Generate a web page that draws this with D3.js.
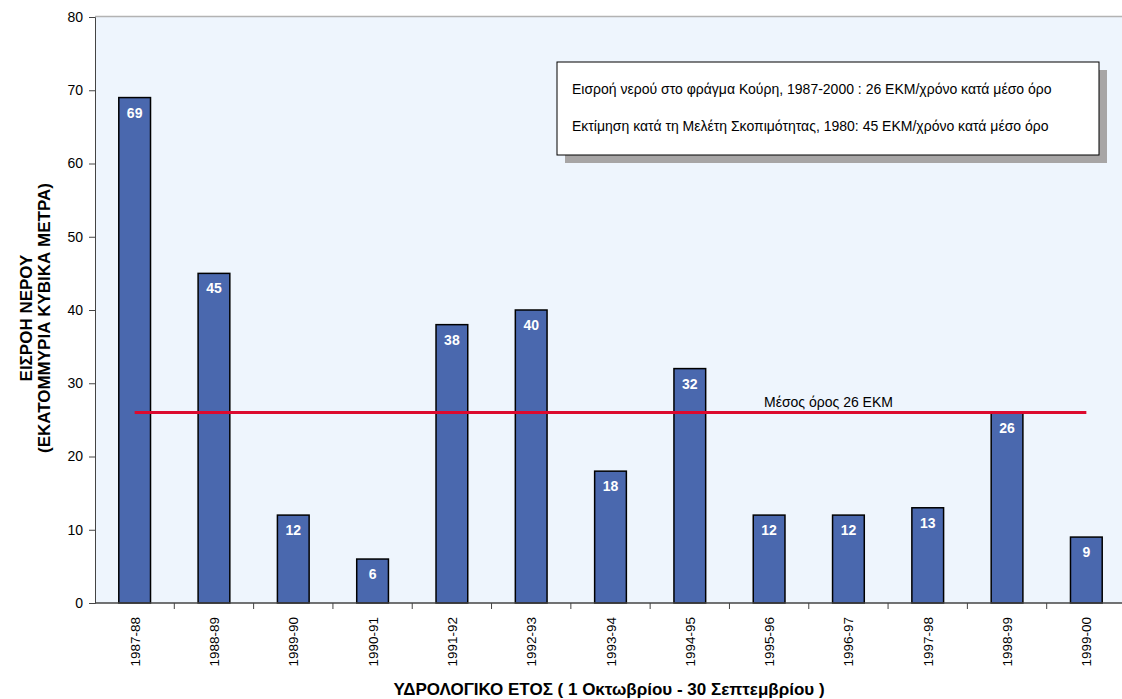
<!DOCTYPE html>
<html>
<head>
<meta charset="utf-8">
<script src="https://cdn.jsdelivr.net/npm/d3@7"></script>
<style>
  body { margin: 0; background: #fff; }
  svg { display: block; font-family: Arial, "Liberation Sans", sans-serif; }
</style>
</head>
<body>
<div id="chart"></div>
<script>
const years = ["1987-88", "1988-89", "1989-90", "1990-91", "1991-92", "1992-93", "1993-94",
  "1994-95", "1995-96", "1996-97", "1997-98", "1998-99", "1999-00"];
const inflow = [69, 45, 12, 6, 38, 40, 18, 32, 12, 12, 13, 26, 9];
const meanValue = 26;
const yTicks = [0, 10, 20, 30, 40, 50, 60, 70, 80];
const legendLines = [
  "Εισροή νερού στο φράγμα Κούρη, 1987-2000 : 26 ΕΚΜ/χρόνο κατά μέσο όρο",
  "Εκτίμηση κατά τη Μελέτη Σκοπιμότητας, 1980: 45 ΕΚΜ/χρόνο κατά μέσο όρο"
];

const width = 1122, height = 699;
const margin = { top: 17, right: -4, bottom: 96, left: 95 };
const innerW = width - margin.left - margin.right;
const innerH = height - margin.top - margin.bottom;

const svg = d3.select("#chart").append("svg")
  .attr("width", width).attr("height", height);

const g = svg.append("g").attr("transform", `translate(${margin.left},${margin.top})`);

g.append("rect")
  .attr("width", innerW).attr("height", innerH)
  .attr("fill", "#eef5fd");
g.append("line")
  .attr("x1", 0).attr("x2", innerW).attr("y1", -0.5).attr("y2", -0.5)
  .attr("stroke", "#b3b3b3").attr("stroke-width", 1.5);

const x = d3.scaleBand().domain(years).range([0, innerW]).paddingInner(0.6).paddingOuter(0.3);
const y = d3.scaleLinear().domain([0, 80]).range([innerH, 0]);

// y axis
const yAxis = g.append("g")
  .call(d3.axisLeft(y).tickValues(yTicks).tickSize(6).tickPadding(6));
yAxis.select(".domain").attr("stroke", "#444");
yAxis.selectAll(".tick line").attr("stroke", "#444");
yAxis.selectAll("text").style("font-size", "14px").attr("fill", "#000");

// bars
g.selectAll(".bar").data(inflow).join("rect")
  .attr("class", "bar")
  .attr("x", (d, i) => x(years[i]))
  .attr("y", d => y(d))
  .attr("width", x.bandwidth())
  .attr("height", d => y(0) - y(d))
  .attr("fill", "#4a68ae")
  .attr("stroke", "#000")
  .attr("stroke-width", 1.5);

g.selectAll(".val").data(inflow).join("text")
  .attr("class", "val")
  .attr("x", (d, i) => x(years[i]) + x.bandwidth() / 2)
  .attr("y", d => y(d) + 20)
  .attr("text-anchor", "middle")
  .attr("fill", "#fff")
  .style("font-size", "14px")
  .style("font-weight", "bold")
  .text(d => d);

// x axis with ticks between categories
const step = x.step();
const xAxisG = g.append("g").attr("transform", `translate(0,${innerH})`);
xAxisG.append("line").attr("x1", 0).attr("x2", innerW)
  .attr("stroke", "#444").attr("stroke-width", 1.5);
xAxisG.selectAll(".sep").data(d3.range(1, years.length)).join("line")
  .attr("x1", i => i * step).attr("x2", i => i * step)
  .attr("y1", 0).attr("y2", 6)
  .attr("stroke", "#444");
xAxisG.selectAll(".lbl").data(years).join("text")
  .attr("transform", d => `translate(${x(d) + x.bandwidth() / 2 + 5},${14}) rotate(-90)`)
  .attr("text-anchor", "end")
  .style("font-size", "13.5px")
  .text(d => d);

// mean line
const first = years[0], last = years[years.length - 1];
g.append("line")
  .attr("x1", x(first) + x.bandwidth() / 2)
  .attr("x2", x(last) + x.bandwidth() / 2)
  .attr("y1", y(meanValue)).attr("y2", y(meanValue))
  .attr("stroke", "#dc0a2e").attr("stroke-width", 3);
g.append("text")
  .attr("x", 764 - margin.left)
  .attr("y", y(meanValue) - 6)
  .style("font-size", "14px")
  .text(`Μέσος όρος ${meanValue} ΕΚΜ`);

// legend box with shadow
const lg = svg.append("g").attr("transform", "translate(557,62)");
lg.append("rect").attr("x", 8).attr("y", 8).attr("width", 542).attr("height", 93).attr("fill", "#a7a5a5");
lg.append("rect").attr("width", 542).attr("height", 93).attr("fill", "#fff").attr("stroke", "#000");
lg.selectAll("text").data(legendLines).join("text")
  .attr("x", 15).attr("y", (d, i) => 32 + i * 37)
  .style("font-size", "14px")
  .text(d => d);

// axis titles
const yt = svg.append("text")
  .attr("transform", "translate(35,318) rotate(-90)")
  .attr("text-anchor", "middle")
  .style("font-size", "17px").style("font-weight", "bold");
yt.append("tspan").attr("x", 0).attr("dy", "-0.2em").text("ΕΙΣΡΟΗ ΝΕΡΟΥ");
yt.append("tspan").attr("x", 0).attr("dy", "1.1em").text("(ΕΚΑΤΟΜΜΥΡΙΑ ΚΥΒΙΚΑ ΜΕΤΡΑ)");

svg.append("text")
  .attr("x", 609).attr("y", 695)
  .attr("text-anchor", "middle")
  .style("font-size", "17px").style("font-weight", "bold")
  .text("ΥΔΡΟΛΟΓΙΚΟ ΕΤΟΣ ( 1 Οκτωβρίου - 30 Σεπτεμβρίου )");
</script>
</body>
</html>
